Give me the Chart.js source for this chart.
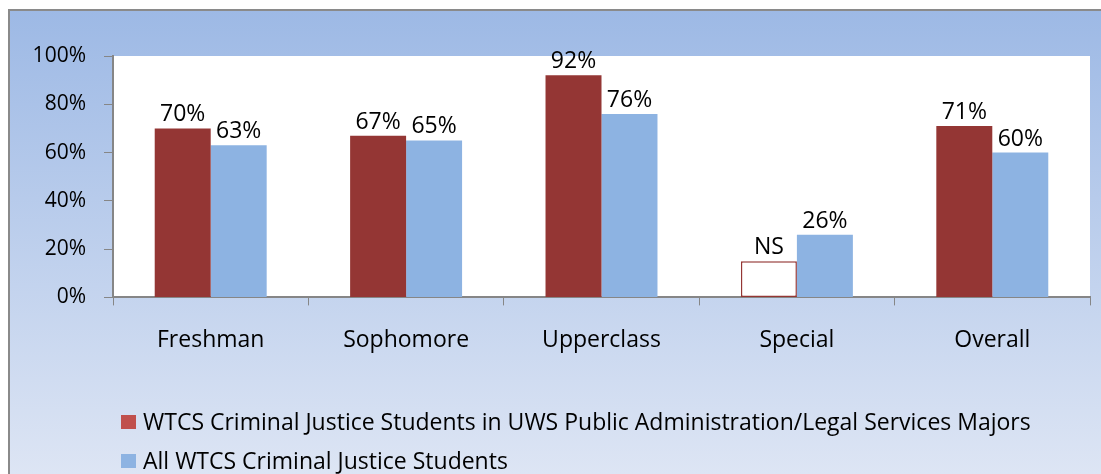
<!DOCTYPE html>
<html>
  <head>
    <meta charset="UTF-8">
    <style>
      html, body { margin: 0; padding: 0; background: #fff; }
      #wrap { width: 1101px; height: 474px; }
    </style>
  </head>
  <body>
    <div id="wrap"><canvas id="persist" width="1101" height="474"></canvas></div>

    <script src="https://cdn.jsdelivr.net/npm/chart.js@4.4.0/dist/chart.umd.min.js"></script>
    <script type="text/javascript">

      const categories = ['Freshman', 'Sophomore', 'Upperclass', 'Special', 'Overall'];
      const seriesNames = [
        'WTCS Criminal Justice Students in UWS Public Administration/Legal Services Majors',
        'All WTCS Criminal Justice Students'
      ];
      // Special / WTCS bar is not significant: drawn as an empty box
      const wtcsValues = [70, 67, 92, 15, 71];
      const wtcsLabels = ['70%', '67%', '92%', 'NS', '71%'];
      const allValues = [63, 65, 76, 26, 60];
      const allLabels = ['63%', '65%', '76%', '26%', '60%'];
      const yTicks = [0, 20, 40, 60, 80, 100];

      const FONT = 'Open Sans';
      const FSIZE = 23;
      const YSIZE = 21;
      const RED = '#943634';
      const RED_LEGEND = '#C0504D';
      const BLUE = '#8DB3E2';
      const AXIS = '#868686';

      // frame with gradient + white plot area
      const backdrop = {
        id: 'backdrop',
        beforeDraw(chart) {
          const ctx = chart.ctx;
          const a = chart.chartArea;
          ctx.save();
          ctx.fillStyle = '#fff';
          ctx.fillRect(0, 0, chart.width, chart.height);
          const g = ctx.createLinearGradient(0, 10, 0, chart.height);
          g.addColorStop(0, '#9DB9E5');
          g.addColorStop(1, '#DDE5F4');
          ctx.fillStyle = g;
          ctx.fillRect(9, 10, chart.width, chart.height);
          ctx.strokeStyle = '#8A8A8A';
          ctx.lineWidth = 2;
          ctx.beginPath();
          ctx.moveTo(9, chart.height + 2);
          ctx.lineTo(9, 10);
          ctx.lineTo(chart.width + 2, 10);
          ctx.stroke();
          ctx.fillStyle = '#fff';
          ctx.fillRect(a.left, a.top, a.right - a.left, a.bottom - a.top);
          ctx.restore();
        }
      };

      const valueLabels = {
        id: 'valueLabels',
        afterDatasetsDraw(chart) {
          const ctx = chart.ctx;
          ctx.save();
          ctx.font = FSIZE + 'px "' + FONT + '"';
          ctx.fillStyle = '#000';
          ctx.textAlign = 'center';
          ctx.textBaseline = 'alphabetic';
          chart.data.datasets.forEach((ds, i) => {
            chart.getDatasetMeta(i).data.forEach((bar, j) => {
              ctx.fillText(ds.valueLabels[j], bar.x, bar.y - 7);
            });
          });
          ctx.restore();
        }
      };

      const legendBox = {
        id: 'legendBox',
        afterDraw(chart) {
          const ctx = chart.ctx;
          const colors = [RED_LEGEND, BLUE];
          ctx.save();
          ctx.font = FSIZE + 'px "' + FONT + '"';
          ctx.textBaseline = 'alphabetic';
          seriesNames.forEach((name, i) => {
            const y = 430 + i * 39;
            ctx.fillStyle = colors[i];
            ctx.fillRect(121, y - 15, 15, 14);
            ctx.fillStyle = '#000';
            ctx.fillText(name, 143, y);
          });
          ctx.restore();
        }
      };

      new Chart(document.getElementById('persist'), {
        type: 'bar',
        data: {
          labels: categories,
          datasets: [
            {
              label: seriesNames[0],
              data: wtcsValues,
              valueLabels: wtcsLabels,
              backgroundColor: wtcsLabels.map(l => l === 'NS' ? '#fff' : RED),
              borderColor: RED,
              borderWidth: wtcsLabels.map(l => l === 'NS' ? 1.5 : 0),
              borderSkipped: false,
              barPercentage: 1,
              categoryPercentage: 0.573
            },
            {
              label: seriesNames[1],
              data: allValues,
              valueLabels: allLabels,
              backgroundColor: BLUE,
              borderWidth: 0,
              barPercentage: 1,
              categoryPercentage: 0.573
            }
          ]
        },
        options: {
          responsive: false,
          animation: false,
          layout: { padding: { top: 56, left: 0, right: 11, bottom: 99 } },
          plugins: {
            legend: { display: false },
            tooltip: { enabled: false }
          },
          scales: {
            x: {
              grid: { drawOnChartArea: false, drawTicks: true, tickLength: 8, color: AXIS, offset: true },
              border: { display: true, color: AXIS, width: 2 },
              ticks: { color: '#000', font: { family: FONT, size: FSIZE }, padding: 21, maxRotation: 0, autoSkip: false }
            },
            y: {
              min: 0,
              max: 100,
              afterBuildTicks(scale) { scale.ticks = yTicks.map(v => ({ value: v })); },
              grid: { drawOnChartArea: false, drawTicks: true, tickLength: 9, color: AXIS },
              border: { display: true, color: AXIS, width: 2 },
              ticks: {
                color: '#000',
                font: { family: FONT, size: YSIZE },
                padding: 18,
                callback: v => v + '%'
              },
              afterFit(scale) { scale.width = 113; }
            }
          }
        },
        plugins: [backdrop, valueLabels, legendBox]
      });

    </script>
  </body>
</html>
